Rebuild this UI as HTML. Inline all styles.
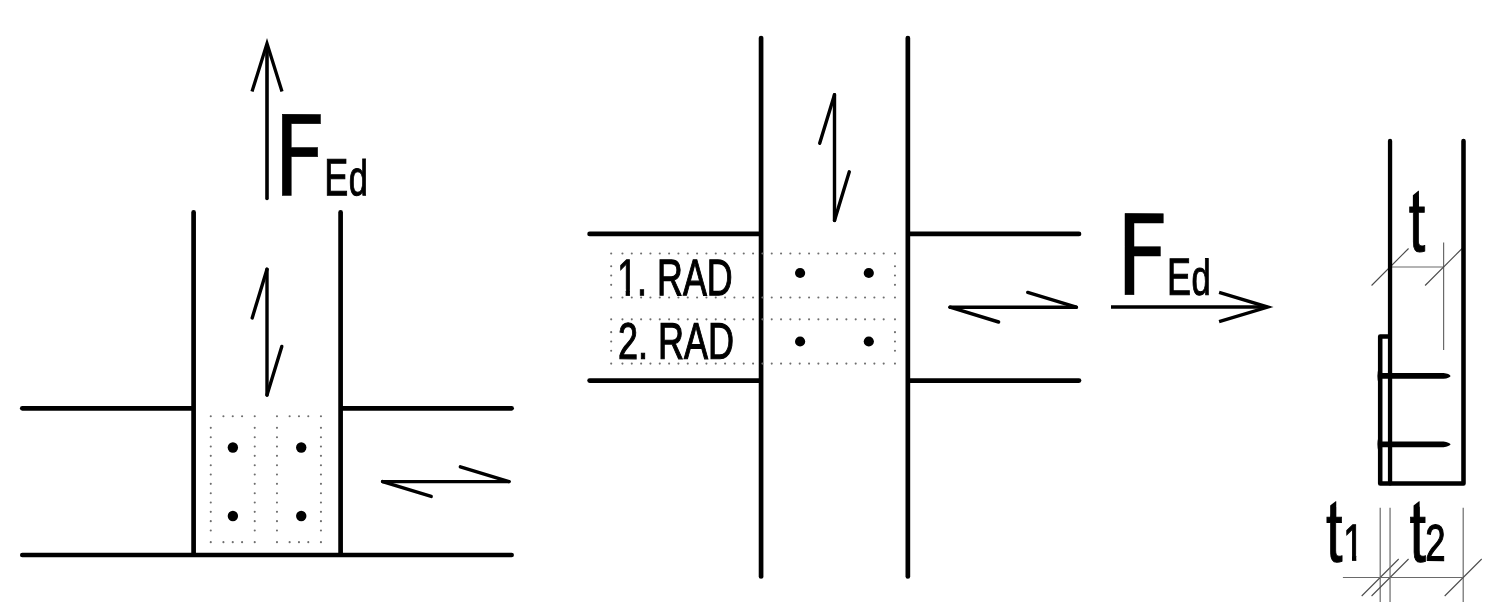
<!DOCTYPE html>
<html lang="en">
<head>
<meta charset="utf-8">
<title>Connection diagram</title>
<style>
html,body{margin:0;padding:0;background:#fff;}
body{width:1500px;height:616px;overflow:hidden;}
svg{display:block;will-change:transform;}
text{font-family:"Liberation Sans",sans-serif;fill:#000;text-rendering:geometricPrecision;}
</style>
</head>
<body>
<svg width="1500" height="616" viewBox="0 0 1500 616">
<rect x="0" y="0" width="1500" height="616" fill="#fff"/>
<defs><clipPath id="cf1"><path clip-rule="evenodd" d="M600,240 H750 V310 H600 Z M617.97,289.58 H625.73 V298.25 H617.97 Z M629.90,289.58 H637.30 V298.25 H629.90 Z"/></clipPath><clipPath id="cf2"><path clip-rule="evenodd" d="M1300,480 H1500 V616 H1300 Z M1344.12,554.54 H1352.01 V563.20 H1344.12 Z M1356.26,554.54 H1363.78 V563.20 H1356.26 Z"/></clipPath></defs>
<line x1="193.60" y1="212.40" x2="193.60" y2="554.00" stroke="#000" stroke-width="4.7" stroke-linecap="round"/>
<line x1="340.60" y1="212.40" x2="340.60" y2="554.00" stroke="#000" stroke-width="4.7" stroke-linecap="round"/>
<line x1="22.30" y1="408.30" x2="192.60" y2="408.30" stroke="#000" stroke-width="4.7" stroke-linecap="round"/>
<line x1="341.60" y1="408.30" x2="511.60" y2="408.30" stroke="#000" stroke-width="4.7" stroke-linecap="round"/>
<line x1="22.30" y1="555.00" x2="511.60" y2="555.00" stroke="#000" stroke-width="4.7" stroke-linecap="round"/>
<line x1="267.00" y1="46.00" x2="267.00" y2="198.40" stroke="#000" stroke-width="3.6" stroke-linecap="round"/>
<polyline points="252.00,91.60 267.00,43.60 282.00,91.60" fill="none" stroke="#000" stroke-width="3.3" stroke-linecap="butt" stroke-linejoin="miter"/>
<line x1="267.00" y1="269.30" x2="267.00" y2="395.10" stroke="#000" stroke-width="3.4" stroke-linecap="round"/>
<line x1="267.00" y1="269.30" x2="252.20" y2="317.90" stroke="#000" stroke-width="3.4" stroke-linecap="round"/>
<line x1="267.00" y1="395.10" x2="281.80" y2="346.50" stroke="#000" stroke-width="3.4" stroke-linecap="round"/>
<line x1="382.60" y1="481.60" x2="509.00" y2="481.60" stroke="#000" stroke-width="3.4" stroke-linecap="round"/>
<line x1="509.00" y1="481.60" x2="460.40" y2="466.80" stroke="#000" stroke-width="3.4" stroke-linecap="round"/>
<line x1="382.60" y1="481.60" x2="431.20" y2="496.40" stroke="#000" stroke-width="3.4" stroke-linecap="round"/>
<circle cx="210.76" cy="416.22" r="1.05" fill="#6e6e6e"/>
<circle cx="223.42" cy="416.22" r="1.05" fill="#6e6e6e"/>
<circle cx="232.75" cy="416.22" r="1.05" fill="#6e6e6e"/>
<circle cx="242.08" cy="416.22" r="1.05" fill="#6e6e6e"/>
<circle cx="254.74" cy="416.22" r="1.05" fill="#6e6e6e"/>
<circle cx="254.74" cy="427.87" r="1.05" fill="#6e6e6e"/>
<circle cx="254.74" cy="437.20" r="1.05" fill="#6e6e6e"/>
<circle cx="254.74" cy="446.53" r="1.05" fill="#6e6e6e"/>
<circle cx="254.74" cy="455.86" r="1.05" fill="#6e6e6e"/>
<circle cx="254.74" cy="465.19" r="1.05" fill="#6e6e6e"/>
<circle cx="254.74" cy="474.52" r="1.05" fill="#6e6e6e"/>
<circle cx="254.74" cy="483.85" r="1.05" fill="#6e6e6e"/>
<circle cx="254.74" cy="493.18" r="1.05" fill="#6e6e6e"/>
<circle cx="254.74" cy="502.51" r="1.05" fill="#6e6e6e"/>
<circle cx="254.74" cy="511.84" r="1.05" fill="#6e6e6e"/>
<circle cx="254.74" cy="521.17" r="1.05" fill="#6e6e6e"/>
<circle cx="254.74" cy="530.50" r="1.05" fill="#6e6e6e"/>
<circle cx="254.74" cy="542.15" r="1.05" fill="#6e6e6e"/>
<circle cx="242.08" cy="542.15" r="1.05" fill="#6e6e6e"/>
<circle cx="232.75" cy="542.15" r="1.05" fill="#6e6e6e"/>
<circle cx="223.42" cy="542.15" r="1.05" fill="#6e6e6e"/>
<circle cx="210.76" cy="542.15" r="1.05" fill="#6e6e6e"/>
<circle cx="210.76" cy="530.50" r="1.05" fill="#6e6e6e"/>
<circle cx="210.76" cy="521.17" r="1.05" fill="#6e6e6e"/>
<circle cx="210.76" cy="511.84" r="1.05" fill="#6e6e6e"/>
<circle cx="210.76" cy="502.51" r="1.05" fill="#6e6e6e"/>
<circle cx="210.76" cy="493.18" r="1.05" fill="#6e6e6e"/>
<circle cx="210.76" cy="483.85" r="1.05" fill="#6e6e6e"/>
<circle cx="210.76" cy="474.52" r="1.05" fill="#6e6e6e"/>
<circle cx="210.76" cy="465.19" r="1.05" fill="#6e6e6e"/>
<circle cx="210.76" cy="455.86" r="1.05" fill="#6e6e6e"/>
<circle cx="210.76" cy="446.53" r="1.05" fill="#6e6e6e"/>
<circle cx="210.76" cy="437.20" r="1.05" fill="#6e6e6e"/>
<circle cx="210.76" cy="427.87" r="1.05" fill="#6e6e6e"/>
<circle cx="276.97" cy="416.22" r="1.05" fill="#6e6e6e"/>
<circle cx="289.63" cy="416.22" r="1.05" fill="#6e6e6e"/>
<circle cx="298.96" cy="416.22" r="1.05" fill="#6e6e6e"/>
<circle cx="308.29" cy="416.22" r="1.05" fill="#6e6e6e"/>
<circle cx="320.95" cy="416.22" r="1.05" fill="#6e6e6e"/>
<circle cx="320.95" cy="427.87" r="1.05" fill="#6e6e6e"/>
<circle cx="320.95" cy="437.20" r="1.05" fill="#6e6e6e"/>
<circle cx="320.95" cy="446.53" r="1.05" fill="#6e6e6e"/>
<circle cx="320.95" cy="455.86" r="1.05" fill="#6e6e6e"/>
<circle cx="320.95" cy="465.19" r="1.05" fill="#6e6e6e"/>
<circle cx="320.95" cy="474.52" r="1.05" fill="#6e6e6e"/>
<circle cx="320.95" cy="483.85" r="1.05" fill="#6e6e6e"/>
<circle cx="320.95" cy="493.18" r="1.05" fill="#6e6e6e"/>
<circle cx="320.95" cy="502.51" r="1.05" fill="#6e6e6e"/>
<circle cx="320.95" cy="511.84" r="1.05" fill="#6e6e6e"/>
<circle cx="320.95" cy="521.17" r="1.05" fill="#6e6e6e"/>
<circle cx="320.95" cy="530.50" r="1.05" fill="#6e6e6e"/>
<circle cx="320.95" cy="542.15" r="1.05" fill="#6e6e6e"/>
<circle cx="308.29" cy="542.15" r="1.05" fill="#6e6e6e"/>
<circle cx="298.96" cy="542.15" r="1.05" fill="#6e6e6e"/>
<circle cx="289.63" cy="542.15" r="1.05" fill="#6e6e6e"/>
<circle cx="276.97" cy="542.15" r="1.05" fill="#6e6e6e"/>
<circle cx="276.97" cy="530.50" r="1.05" fill="#6e6e6e"/>
<circle cx="276.97" cy="521.17" r="1.05" fill="#6e6e6e"/>
<circle cx="276.97" cy="511.84" r="1.05" fill="#6e6e6e"/>
<circle cx="276.97" cy="502.51" r="1.05" fill="#6e6e6e"/>
<circle cx="276.97" cy="493.18" r="1.05" fill="#6e6e6e"/>
<circle cx="276.97" cy="483.85" r="1.05" fill="#6e6e6e"/>
<circle cx="276.97" cy="474.52" r="1.05" fill="#6e6e6e"/>
<circle cx="276.97" cy="465.19" r="1.05" fill="#6e6e6e"/>
<circle cx="276.97" cy="455.86" r="1.05" fill="#6e6e6e"/>
<circle cx="276.97" cy="446.53" r="1.05" fill="#6e6e6e"/>
<circle cx="276.97" cy="437.20" r="1.05" fill="#6e6e6e"/>
<circle cx="276.97" cy="427.87" r="1.05" fill="#6e6e6e"/>
<circle cx="232.87" cy="447.46" r="5.2"/>
<circle cx="232.87" cy="515.96" r="5.2"/>
<circle cx="301.24" cy="447.46" r="5.2"/>
<circle cx="301.24" cy="515.96" r="5.2"/>
<line x1="761.07" y1="38.00" x2="761.07" y2="576.40" stroke="#000" stroke-width="4.7" stroke-linecap="round"/>
<line x1="907.85" y1="38.00" x2="907.85" y2="576.40" stroke="#000" stroke-width="4.7" stroke-linecap="round"/>
<line x1="589.60" y1="233.95" x2="760.07" y2="233.95" stroke="#000" stroke-width="4.7" stroke-linecap="round"/>
<line x1="908.85" y1="233.95" x2="1079.00" y2="233.95" stroke="#000" stroke-width="4.7" stroke-linecap="round"/>
<line x1="589.60" y1="380.55" x2="760.07" y2="380.55" stroke="#000" stroke-width="4.7" stroke-linecap="round"/>
<line x1="908.85" y1="380.55" x2="1079.00" y2="380.55" stroke="#000" stroke-width="4.7" stroke-linecap="round"/>
<line x1="834.50" y1="94.70" x2="834.50" y2="220.40" stroke="#000" stroke-width="3.4" stroke-linecap="round"/>
<line x1="834.50" y1="94.70" x2="819.70" y2="143.30" stroke="#000" stroke-width="3.4" stroke-linecap="round"/>
<line x1="834.50" y1="220.40" x2="849.30" y2="171.80" stroke="#000" stroke-width="3.4" stroke-linecap="round"/>
<line x1="950.00" y1="307.20" x2="1076.30" y2="307.20" stroke="#000" stroke-width="3.4" stroke-linecap="round"/>
<line x1="1076.30" y1="307.20" x2="1027.70" y2="292.40" stroke="#000" stroke-width="3.4" stroke-linecap="round"/>
<line x1="950.00" y1="307.20" x2="998.60" y2="322.00" stroke="#000" stroke-width="3.4" stroke-linecap="round"/>
<circle cx="611.17" cy="253.56" r="1.05" fill="#6e6e6e"/>
<circle cx="622.45" cy="253.56" r="1.05" fill="#6e6e6e"/>
<circle cx="631.78" cy="253.56" r="1.05" fill="#6e6e6e"/>
<circle cx="641.11" cy="253.56" r="1.05" fill="#6e6e6e"/>
<circle cx="650.44" cy="253.56" r="1.05" fill="#6e6e6e"/>
<circle cx="659.77" cy="253.56" r="1.05" fill="#6e6e6e"/>
<circle cx="669.10" cy="253.56" r="1.05" fill="#6e6e6e"/>
<circle cx="678.43" cy="253.56" r="1.05" fill="#6e6e6e"/>
<circle cx="687.76" cy="253.56" r="1.05" fill="#6e6e6e"/>
<circle cx="697.09" cy="253.56" r="1.05" fill="#6e6e6e"/>
<circle cx="706.42" cy="253.56" r="1.05" fill="#6e6e6e"/>
<circle cx="715.75" cy="253.56" r="1.05" fill="#6e6e6e"/>
<circle cx="725.08" cy="253.56" r="1.05" fill="#6e6e6e"/>
<circle cx="734.41" cy="253.56" r="1.05" fill="#6e6e6e"/>
<circle cx="743.74" cy="253.56" r="1.05" fill="#6e6e6e"/>
<circle cx="753.07" cy="253.56" r="1.05" fill="#6e6e6e"/>
<circle cx="762.40" cy="253.56" r="1.05" fill="#6e6e6e"/>
<circle cx="771.73" cy="253.56" r="1.05" fill="#6e6e6e"/>
<circle cx="781.06" cy="253.56" r="1.05" fill="#6e6e6e"/>
<circle cx="790.39" cy="253.56" r="1.05" fill="#6e6e6e"/>
<circle cx="799.72" cy="253.56" r="1.05" fill="#6e6e6e"/>
<circle cx="809.05" cy="253.56" r="1.05" fill="#6e6e6e"/>
<circle cx="818.38" cy="253.56" r="1.05" fill="#6e6e6e"/>
<circle cx="827.71" cy="253.56" r="1.05" fill="#6e6e6e"/>
<circle cx="837.04" cy="253.56" r="1.05" fill="#6e6e6e"/>
<circle cx="846.37" cy="253.56" r="1.05" fill="#6e6e6e"/>
<circle cx="855.70" cy="253.56" r="1.05" fill="#6e6e6e"/>
<circle cx="865.03" cy="253.56" r="1.05" fill="#6e6e6e"/>
<circle cx="874.36" cy="253.56" r="1.05" fill="#6e6e6e"/>
<circle cx="883.69" cy="253.56" r="1.05" fill="#6e6e6e"/>
<circle cx="894.97" cy="253.56" r="1.05" fill="#6e6e6e"/>
<circle cx="894.97" cy="266.18" r="1.05" fill="#6e6e6e"/>
<circle cx="894.97" cy="275.50" r="1.05" fill="#6e6e6e"/>
<circle cx="894.97" cy="284.83" r="1.05" fill="#6e6e6e"/>
<circle cx="894.97" cy="297.45" r="1.05" fill="#6e6e6e"/>
<circle cx="883.69" cy="297.45" r="1.05" fill="#6e6e6e"/>
<circle cx="874.36" cy="297.45" r="1.05" fill="#6e6e6e"/>
<circle cx="865.03" cy="297.45" r="1.05" fill="#6e6e6e"/>
<circle cx="855.70" cy="297.45" r="1.05" fill="#6e6e6e"/>
<circle cx="846.37" cy="297.45" r="1.05" fill="#6e6e6e"/>
<circle cx="837.04" cy="297.45" r="1.05" fill="#6e6e6e"/>
<circle cx="827.71" cy="297.45" r="1.05" fill="#6e6e6e"/>
<circle cx="818.38" cy="297.45" r="1.05" fill="#6e6e6e"/>
<circle cx="809.05" cy="297.45" r="1.05" fill="#6e6e6e"/>
<circle cx="799.72" cy="297.45" r="1.05" fill="#6e6e6e"/>
<circle cx="790.39" cy="297.45" r="1.05" fill="#6e6e6e"/>
<circle cx="781.06" cy="297.45" r="1.05" fill="#6e6e6e"/>
<circle cx="771.73" cy="297.45" r="1.05" fill="#6e6e6e"/>
<circle cx="762.40" cy="297.45" r="1.05" fill="#6e6e6e"/>
<circle cx="753.07" cy="297.45" r="1.05" fill="#6e6e6e"/>
<circle cx="743.74" cy="297.45" r="1.05" fill="#6e6e6e"/>
<circle cx="734.41" cy="297.45" r="1.05" fill="#6e6e6e"/>
<circle cx="725.08" cy="297.45" r="1.05" fill="#6e6e6e"/>
<circle cx="715.75" cy="297.45" r="1.05" fill="#6e6e6e"/>
<circle cx="706.42" cy="297.45" r="1.05" fill="#6e6e6e"/>
<circle cx="697.09" cy="297.45" r="1.05" fill="#6e6e6e"/>
<circle cx="687.76" cy="297.45" r="1.05" fill="#6e6e6e"/>
<circle cx="678.43" cy="297.45" r="1.05" fill="#6e6e6e"/>
<circle cx="669.10" cy="297.45" r="1.05" fill="#6e6e6e"/>
<circle cx="659.77" cy="297.45" r="1.05" fill="#6e6e6e"/>
<circle cx="650.44" cy="297.45" r="1.05" fill="#6e6e6e"/>
<circle cx="641.11" cy="297.45" r="1.05" fill="#6e6e6e"/>
<circle cx="631.78" cy="297.45" r="1.05" fill="#6e6e6e"/>
<circle cx="622.45" cy="297.45" r="1.05" fill="#6e6e6e"/>
<circle cx="611.17" cy="297.45" r="1.05" fill="#6e6e6e"/>
<circle cx="611.17" cy="284.83" r="1.05" fill="#6e6e6e"/>
<circle cx="611.17" cy="275.50" r="1.05" fill="#6e6e6e"/>
<circle cx="611.17" cy="266.18" r="1.05" fill="#6e6e6e"/>
<circle cx="611.17" cy="319.33" r="1.05" fill="#6e6e6e"/>
<circle cx="622.45" cy="319.33" r="1.05" fill="#6e6e6e"/>
<circle cx="631.78" cy="319.33" r="1.05" fill="#6e6e6e"/>
<circle cx="641.11" cy="319.33" r="1.05" fill="#6e6e6e"/>
<circle cx="650.44" cy="319.33" r="1.05" fill="#6e6e6e"/>
<circle cx="659.77" cy="319.33" r="1.05" fill="#6e6e6e"/>
<circle cx="669.10" cy="319.33" r="1.05" fill="#6e6e6e"/>
<circle cx="678.43" cy="319.33" r="1.05" fill="#6e6e6e"/>
<circle cx="687.76" cy="319.33" r="1.05" fill="#6e6e6e"/>
<circle cx="697.09" cy="319.33" r="1.05" fill="#6e6e6e"/>
<circle cx="706.42" cy="319.33" r="1.05" fill="#6e6e6e"/>
<circle cx="715.75" cy="319.33" r="1.05" fill="#6e6e6e"/>
<circle cx="725.08" cy="319.33" r="1.05" fill="#6e6e6e"/>
<circle cx="734.41" cy="319.33" r="1.05" fill="#6e6e6e"/>
<circle cx="743.74" cy="319.33" r="1.05" fill="#6e6e6e"/>
<circle cx="753.07" cy="319.33" r="1.05" fill="#6e6e6e"/>
<circle cx="762.40" cy="319.33" r="1.05" fill="#6e6e6e"/>
<circle cx="771.73" cy="319.33" r="1.05" fill="#6e6e6e"/>
<circle cx="781.06" cy="319.33" r="1.05" fill="#6e6e6e"/>
<circle cx="790.39" cy="319.33" r="1.05" fill="#6e6e6e"/>
<circle cx="799.72" cy="319.33" r="1.05" fill="#6e6e6e"/>
<circle cx="809.05" cy="319.33" r="1.05" fill="#6e6e6e"/>
<circle cx="818.38" cy="319.33" r="1.05" fill="#6e6e6e"/>
<circle cx="827.71" cy="319.33" r="1.05" fill="#6e6e6e"/>
<circle cx="837.04" cy="319.33" r="1.05" fill="#6e6e6e"/>
<circle cx="846.37" cy="319.33" r="1.05" fill="#6e6e6e"/>
<circle cx="855.70" cy="319.33" r="1.05" fill="#6e6e6e"/>
<circle cx="865.03" cy="319.33" r="1.05" fill="#6e6e6e"/>
<circle cx="874.36" cy="319.33" r="1.05" fill="#6e6e6e"/>
<circle cx="883.69" cy="319.33" r="1.05" fill="#6e6e6e"/>
<circle cx="894.97" cy="319.33" r="1.05" fill="#6e6e6e"/>
<circle cx="894.97" cy="332.13" r="1.05" fill="#6e6e6e"/>
<circle cx="894.97" cy="341.47" r="1.05" fill="#6e6e6e"/>
<circle cx="894.97" cy="350.80" r="1.05" fill="#6e6e6e"/>
<circle cx="894.97" cy="363.60" r="1.05" fill="#6e6e6e"/>
<circle cx="883.69" cy="363.60" r="1.05" fill="#6e6e6e"/>
<circle cx="874.36" cy="363.60" r="1.05" fill="#6e6e6e"/>
<circle cx="865.03" cy="363.60" r="1.05" fill="#6e6e6e"/>
<circle cx="855.70" cy="363.60" r="1.05" fill="#6e6e6e"/>
<circle cx="846.37" cy="363.60" r="1.05" fill="#6e6e6e"/>
<circle cx="837.04" cy="363.60" r="1.05" fill="#6e6e6e"/>
<circle cx="827.71" cy="363.60" r="1.05" fill="#6e6e6e"/>
<circle cx="818.38" cy="363.60" r="1.05" fill="#6e6e6e"/>
<circle cx="809.05" cy="363.60" r="1.05" fill="#6e6e6e"/>
<circle cx="799.72" cy="363.60" r="1.05" fill="#6e6e6e"/>
<circle cx="790.39" cy="363.60" r="1.05" fill="#6e6e6e"/>
<circle cx="781.06" cy="363.60" r="1.05" fill="#6e6e6e"/>
<circle cx="771.73" cy="363.60" r="1.05" fill="#6e6e6e"/>
<circle cx="762.40" cy="363.60" r="1.05" fill="#6e6e6e"/>
<circle cx="753.07" cy="363.60" r="1.05" fill="#6e6e6e"/>
<circle cx="743.74" cy="363.60" r="1.05" fill="#6e6e6e"/>
<circle cx="734.41" cy="363.60" r="1.05" fill="#6e6e6e"/>
<circle cx="725.08" cy="363.60" r="1.05" fill="#6e6e6e"/>
<circle cx="715.75" cy="363.60" r="1.05" fill="#6e6e6e"/>
<circle cx="706.42" cy="363.60" r="1.05" fill="#6e6e6e"/>
<circle cx="697.09" cy="363.60" r="1.05" fill="#6e6e6e"/>
<circle cx="687.76" cy="363.60" r="1.05" fill="#6e6e6e"/>
<circle cx="678.43" cy="363.60" r="1.05" fill="#6e6e6e"/>
<circle cx="669.10" cy="363.60" r="1.05" fill="#6e6e6e"/>
<circle cx="659.77" cy="363.60" r="1.05" fill="#6e6e6e"/>
<circle cx="650.44" cy="363.60" r="1.05" fill="#6e6e6e"/>
<circle cx="641.11" cy="363.60" r="1.05" fill="#6e6e6e"/>
<circle cx="631.78" cy="363.60" r="1.05" fill="#6e6e6e"/>
<circle cx="622.45" cy="363.60" r="1.05" fill="#6e6e6e"/>
<circle cx="611.17" cy="363.60" r="1.05" fill="#6e6e6e"/>
<circle cx="611.17" cy="350.80" r="1.05" fill="#6e6e6e"/>
<circle cx="611.17" cy="341.47" r="1.05" fill="#6e6e6e"/>
<circle cx="611.17" cy="332.13" r="1.05" fill="#6e6e6e"/>
<circle cx="800.1" cy="273.0" r="5.1"/>
<circle cx="800.1" cy="341.5" r="5.1"/>
<circle cx="868.8" cy="273.0" r="5.1"/>
<circle cx="868.8" cy="341.5" r="5.1"/>
<line x1="1111.00" y1="307.05" x2="1266.00" y2="307.05" stroke="#000" stroke-width="3.5" stroke-linecap="butt"/>
<polyline points="1219.10,292.40 1267.80,307.05 1219.10,321.70" fill="none" stroke="#000" stroke-width="3.3" stroke-linecap="butt" stroke-linejoin="miter"/>
<line x1="1390.05" y1="267.00" x2="1443.60" y2="267.00" stroke="#6a6a6a" stroke-width="1.2" stroke-linecap="butt"/>
<line x1="1443.60" y1="242.50" x2="1443.60" y2="349.90" stroke="#6a6a6a" stroke-width="1.2" stroke-linecap="butt"/>
<line x1="1371.55" y1="285.50" x2="1408.55" y2="248.50" stroke="#4a4a4a" stroke-width="1.1" stroke-linecap="butt"/>
<line x1="1425.10" y1="285.50" x2="1462.10" y2="248.50" stroke="#4a4a4a" stroke-width="1.1" stroke-linecap="butt"/>
<line x1="1380.20" y1="507.80" x2="1380.20" y2="601.90" stroke="#6a6a6a" stroke-width="1.2" stroke-linecap="butt"/>
<line x1="1361.70" y1="596.00" x2="1398.70" y2="559.00" stroke="#4a4a4a" stroke-width="1.1" stroke-linecap="butt"/>
<line x1="1390.05" y1="507.80" x2="1390.05" y2="601.90" stroke="#6a6a6a" stroke-width="1.2" stroke-linecap="butt"/>
<line x1="1371.55" y1="596.00" x2="1408.55" y2="559.00" stroke="#4a4a4a" stroke-width="1.1" stroke-linecap="butt"/>
<line x1="1463.20" y1="507.80" x2="1463.20" y2="601.90" stroke="#6a6a6a" stroke-width="1.2" stroke-linecap="butt"/>
<line x1="1444.70" y1="596.00" x2="1481.70" y2="559.00" stroke="#4a4a4a" stroke-width="1.1" stroke-linecap="butt"/>
<line x1="1342.90" y1="577.50" x2="1463.20" y2="577.50" stroke="#6a6a6a" stroke-width="1.2" stroke-linecap="butt"/>
<polyline points="1463.50,141.00 1463.50,483.40 1380.20,483.40 1380.20,336.50 1389.05,336.50" fill="none" stroke="#000" stroke-width="4.55" stroke-linecap="round" stroke-linejoin="round"/>
<polyline points="1390.05,141.00 1390.05,483.40" fill="none" stroke="#000" stroke-width="4.3" stroke-linecap="round" stroke-linejoin="round"/>
<path d="M1378.6,373.00 L1443.5,373.00 Q1449.5,373.80 1450.6,375.90 Q1449.5,378.00 1443.5,378.80 L1378.6,378.80 Z"/>
<path d="M1378.4,368.70 Q1376.5,375.90 1378.4,383.10 Z"/>
<path d="M1378.6,441.40 L1443.5,441.40 Q1449.5,442.20 1450.6,444.30 Q1449.5,446.40 1443.5,447.20 L1378.6,447.20 Z"/>
<path d="M1378.4,437.10 Q1376.5,444.30 1378.4,451.50 Z"/>
<text transform="translate(273.35,195.55) skewY(0.05) scale(0.822,1)" font-size="111.3" style="font-family:'DejaVu Sans',sans-serif" stroke="#000" stroke-width="0.5">F</text>
<text transform="translate(324.35,195.35) skewY(0.05) scale(0.69,1)" stroke="#000" stroke-width="1.0"><tspan font-size="52.2">E</tspan><tspan font-size="49.9" x="35.36">d</tspan></text>
<text transform="translate(1116.05,294.85) skewY(0.05) scale(0.822,1)" font-size="111.3" style="font-family:'DejaVu Sans',sans-serif" stroke="#000" stroke-width="0.5">F</text>
<text transform="translate(1167.05,294.65) skewY(0.05) scale(0.69,1)" stroke="#000" stroke-width="1.0"><tspan font-size="52.2">E</tspan><tspan font-size="49.9" x="35.36">d</tspan></text>
<g clip-path="url(#cf1)">
<text transform="translate(617.20,295.25) skewY(0.05) scale(0.6947,1)" font-size="51.57" stroke="#000" stroke-width="1.2">1. RAD</text>
</g>
<text transform="translate(617.95,358.70) skewY(0.05) scale(0.6994,1)" font-size="51.49" stroke="#000" stroke-width="1.2">2. RAD</text>
<text transform="translate(1408.76,251.17) skewY(0.05) scale(0.71,1)" font-size="83.8" stroke="#000" stroke-width="1.0">t</text>
<path d="M1412.87,209.27 L1412.87,195.20 L1418.33,190.80 L1418.93,190.80 L1418.93,209.27 Z"/>
<g clip-path="url(#cf2)">
<text transform="translate(1326.06,561.57) skewY(0.05) scale(0.71,1)" font-size="83.8" stroke="#000" stroke-width="1.0">t<tspan font-size="51.5" stroke-width="1.2" x="24.28" y="-1.37">1</tspan></text>
</g>
<path d="M1330.17,519.67 L1330.17,505.60 L1335.63,501.20 L1336.23,501.20 L1336.23,519.67 Z"/>
<text transform="translate(1409.46,561.57) skewY(0.05) scale(0.71,1)" font-size="83.8" stroke="#000" stroke-width="1.0">t<tspan font-size="51.5" stroke-width="1.2" x="22.19" y="-1.17">2</tspan></text>
<path d="M1413.57,519.67 L1413.57,505.60 L1419.03,501.20 L1419.63,501.20 L1419.63,519.67 Z"/>
</svg>
</body>
</html>
